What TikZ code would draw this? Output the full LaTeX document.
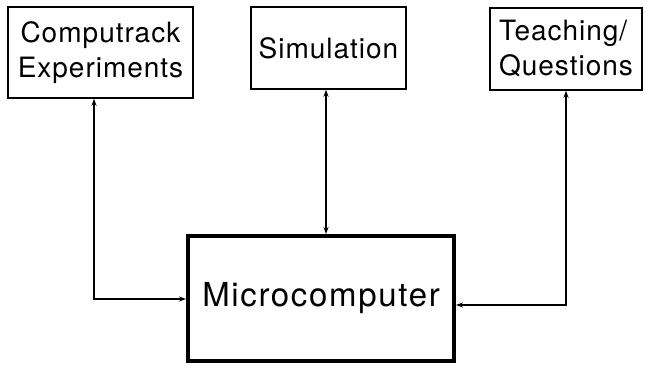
\documentclass[tikz,border=0pt]{standalone}
\usepackage{fontspec}
\setmainfont{TeX Gyre Heros}
\newfontfamily\spacedA[LetterSpace=3.5]{TeX Gyre Heros}
\newfontfamily\spacedB[LetterSpace=5]{TeX Gyre Heros}
\usetikzlibrary{arrows.meta}
\begin{document}
\begin{tikzpicture}[x=1pt,y=1pt,
  box/.style={draw, line width=1.5pt, rectangle, inner sep=0pt, font=\spacedA\fontsize{28}{35}\selectfont, align=center},
  bigbox/.style={draw, line width=4pt, rectangle, inner sep=0pt, font=\spacedB\fontsize{33}{40}\selectfont},
  conn/.style={line width=1.2pt, {Stealth[length=7pt,width=5pt]}-{Stealth[length=7pt,width=5pt]}}]
\useasboundingbox (0,0) rectangle (645,-367);
\node[box, minimum width=185pt, minimum height=91pt] (comp) at (100.5,-52.5) {Computrack\\Experiments};
\node[box, minimum width=155pt, minimum height=82pt] (sim) at (328.5,-48) {Simulation};
\node[box, minimum width=152pt, minimum height=82pt, align=left] (teach) at (566,-49) {Teaching/\\Questions};
\node[bigbox, minimum width=266pt, minimum height=125pt] (micro) at (321,-298.5) {Microcomputer};
\coordinate (j1) at (94,-299);
\coordinate (j3) at (566,-305);
\draw[conn] (comp.south -| j1) -- (j1) -- (micro.west |- j1);
\draw[conn] (sim.south -| 326,0) -- (micro.north -| 326,0);
\draw[conn] (teach.south -| j3) -- (j3) -- (micro.east |- j3);
\end{tikzpicture}
\end{document}
